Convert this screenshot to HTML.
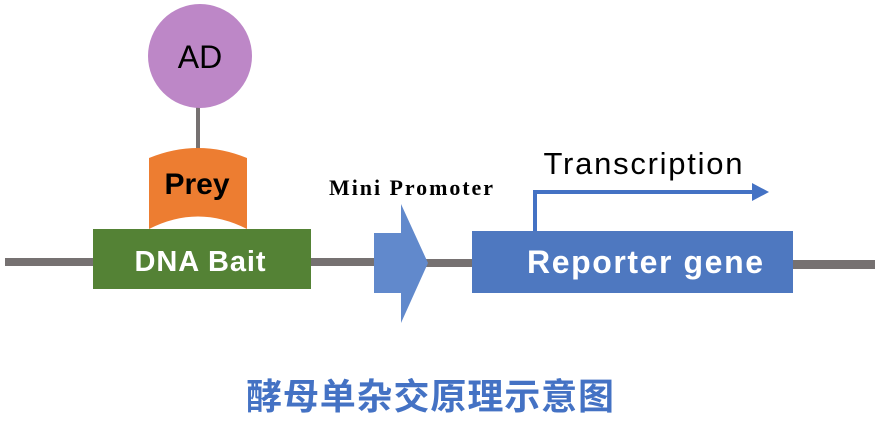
<!DOCTYPE html>
<html><head><meta charset="utf-8"><style>
html,body{margin:0;padding:0;background:#fff;}
svg{display:block;}
</style></head><body>
<svg width="882" height="431" viewBox="0 0 882 431" xmlns="http://www.w3.org/2000/svg">
<rect x="5" y="258" width="90" height="8" fill="#767171"/>
<rect x="310" y="258" width="66" height="8" fill="#767171"/>
<rect x="425" y="259" width="50" height="8" fill="#767171"/>
<rect x="792" y="260" width="83" height="9" fill="#767171"/>
<line x1="198" y1="105" x2="198" y2="150" stroke="#767171" stroke-width="4"/>
<circle cx="200" cy="56" r="52" fill="#bd87c7"/>
<text x="200" y="68" font-family="Liberation Sans, sans-serif" font-size="32" text-anchor="middle" fill="#000">AD</text>
<path d="M149,158 Q198,138 247,158 L247,229 Q198,204 149,229 Z" fill="#ed7d31"/>
<text x="197" y="194" font-family="Liberation Sans, sans-serif" font-weight="bold" font-size="30" text-anchor="middle" fill="#000">Prey</text>
<rect x="93" y="229" width="218" height="60" fill="#548235"/>
<text x="200" y="271" font-family="Liberation Sans, sans-serif" font-weight="bold" font-size="29" text-anchor="middle" fill="#fff" textLength="131">DNA Bait</text>
<path d="M374,233 L401,233 L401,204 L428,263 L401,323 L401,293 L374,293 Z" fill="#6189cc"/>
<text x="411" y="195" font-family="Liberation Serif, serif" font-weight="bold" font-size="22" text-anchor="middle" fill="#000" textLength="164">Mini Promoter</text>
<rect x="472" y="231" width="321" height="62" fill="#4e78c0"/>
<text x="645" y="273" font-family="Liberation Sans, sans-serif" font-weight="bold" font-size="32" text-anchor="middle" fill="#fff" textLength="236">Reporter gene</text>
<path d="M535,231 L535,192 L755,192" fill="none" stroke="#4472c4" stroke-width="4"/>
<path d="M752,183 L769,192 L752,201 Z" fill="#4472c4"/>
<text x="643" y="174" font-family="Liberation Sans, sans-serif" font-size="31" text-anchor="middle" fill="#000" textLength="199">Transcription</text>
<text x="430" y="409" font-family="Liberation Sans, 'Noto Sans CJK SC', sans-serif" font-weight="bold" font-size="36" text-anchor="middle" fill="#4472c4" textLength="368">酵母单杂交原理示意图</text>
</svg>
</body></html>
